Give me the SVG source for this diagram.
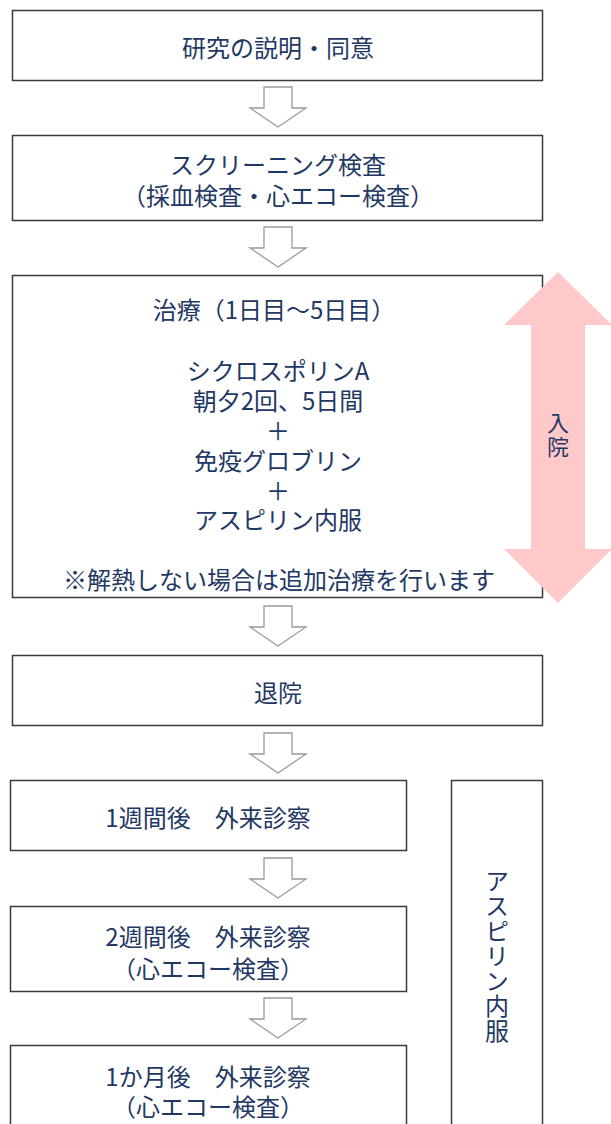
<svg xmlns="http://www.w3.org/2000/svg" width="611" height="1124" viewBox="0 0 611 1124">
<defs>
<style>
.box{fill:#fff;stroke:#3a3a3a;stroke-width:1.5}
.t{font-family:"Noto Sans CJK JP","Noto Sans",sans-serif;font-size:24px;fill:#1f3864;text-anchor:middle;dominant-baseline:central}
.v{font-family:"Noto Sans CJK JP",sans-serif;fill:#1f3864;writing-mode:vertical-rl;text-anchor:middle}
.arr{fill:#fff;stroke:#9a9a9a;stroke-width:1.3}
</style>
<path id="dn" d="M-14,0 H14 V21 H28 L0,40 L-28,21 H-14 Z"/>
</defs>
<rect width="611" height="1124" fill="#fff"/>
<g id="connectors">
<use href="#dn" class="arr" x="278" y="87"/>
<use href="#dn" class="arr" x="278" y="227"/>
<use href="#dn" class="arr" x="278" y="606"/>
<use href="#dn" class="arr" x="278" y="733"/>
<use href="#dn" class="arr" x="278" y="858"/>
<use href="#dn" class="arr" x="278" y="998"/>
</g>
<g id="n1"><rect class="box" x="12.5" y="10.5" width="530" height="70"/><text class="t" x="278" y="46">研究の説明・同意</text></g>
<g id="n2"><rect class="box" x="12.5" y="135.5" width="530" height="85"/><text class="t" x="278" y="163">スクリーニング検査<tspan x="278" dy="31">（採血検査・心エコー検査）</tspan></text></g>
<g id="n3"><rect class="box" x="12.5" y="275.5" width="530" height="322"/>
<text class="t" x="274" y="308">治療（1日目～5日目）<tspan x="278" dy="61">シクロスポリンA</tspan><tspan x="278" dy="30">朝夕2回、5日間</tspan><tspan x="278" dy="30">＋</tspan><tspan x="278" dy="30">免疫グロブリン</tspan><tspan x="278" dy="30">＋</tspan><tspan x="278" dy="29">アスピリン内服</tspan><tspan x="279" dy="60">※解熱しない場合は追加治療を行います</tspan></text>
</g>
<g id="hospital"><polygon fill="#ffc9c9" points="558,272 612,325 585,325 585,549 612,549 558,603 504,549 531,549 531,325 504,325"/><text class="v" x="558" y="436" style="font-size:22px;letter-spacing:2px">入院</text></g>
<g id="n4"><rect class="box" x="12.5" y="655.5" width="530" height="70"/><text class="t" x="278" y="691">退院</text></g>
<g id="n5"><rect class="box" x="10.5" y="780.5" width="396" height="70"/><text class="t" x="208" y="816">1週間後　外来診察</text></g>
<g id="n6"><rect class="box" x="10.5" y="906.5" width="396" height="85"/><text class="t" x="208" y="935">2週間後　外来診察<tspan x="208" dy="32">（心エコー検査）</tspan></text></g>
<g id="n7"><rect class="box" x="10.5" y="1045.5" width="396" height="100"/><text class="t" x="208" y="1075">1か月後　外来診察<tspan x="208" dy="30">（心エコー検査）</tspan></text></g>
<g id="aspirin"><rect class="box" x="451.5" y="780.5" width="91" height="360"/><text class="v" x="497" y="956" style="font-size:24px;letter-spacing:1px">アスピリン内服</text></g>
</svg>
